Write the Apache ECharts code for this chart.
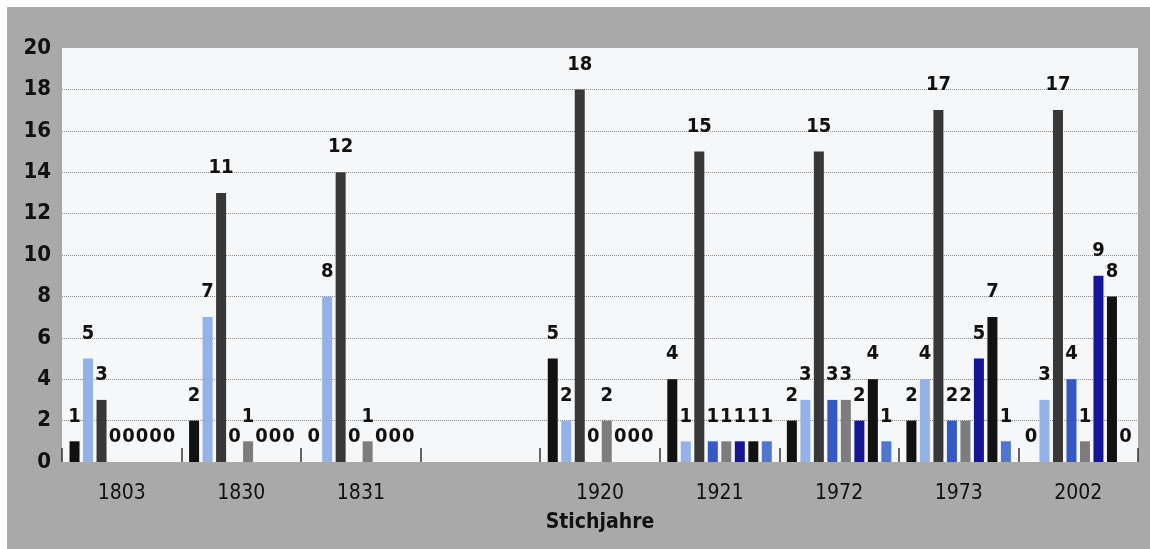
<!DOCTYPE html>
<html>
<head>
<meta charset="utf-8">
<script src="https://cdn.jsdelivr.net/npm/echarts@6/dist/echarts.min.js"></script>
<style>
  html, body { margin: 0; padding: 0; background: #ffffff; }
  #main { position: absolute; left: 7px; top: 7px; width: 1143px; height: 542px; }
</style>
</head>
<body>
<div id="main"></div>
<script>
  // Stichjahre (empty slot between 1831 and 1920 is a gap in the original)
  var years = ['1803', '1830', '1831', '', '1920', '1921', '1972', '1973', '2002'];

  var s1 = [1, 2, 0, '-', 5, 4, 2, 2, 0];        // black
  var s2 = [5, 7, 8, '-', 2, 1, 3, 4, 3];        // light blue
  var s3 = [3, 13, 14, '-', 18, 15, 15, 17, 17]; // charcoal
  var s3Labels = ['3', '11', '12', '', '18', '15', '15', '17', '17'];
  var s4 = [0, 0, 0, '-', 0, 1, 3, 2, 4];        // medium blue
  var s5 = [0, 1, 1, '-', 2, 1, 3, 2, 1];        // grey
  var s6 = [0, 0, 0, '-', 0, 1, 2, 5, 9];        // navy
  var s7 = [0, 0, 0, '-', 0, 1, 4, 7, 8];        // black
  var s8 = [0, 0, 0, '-', 0, 1, 1, 1, 0];        // blue

  var yTicks = [0, 2, 4, 6, 8, 10, 12, 14, 16, 18, 20];

  var FONT = "'Liberation Sans Narrow', 'DejaVu Sans Condensed', 'Roboto', sans-serif";

  var myChart = echarts.init(document.getElementById('main'));

  function barSeries(data, color, labels) {
    return {
      type: 'bar',
      data: data,
      barWidth: 10,
      barGap: '35%',
      itemStyle: { color: color },
      label: {
        show: true,
        position: 'top',
        distance: 15,
        color: '#111',
        fontFamily: FONT,
        fontWeight: 'bold',
        fontSize: 20,
        formatter: function (p) {
          if (labels) return labels[p.dataIndex];
          return p.value;
        }
      }
    };
  }

  var option = {
    backgroundColor: '#a9a9a9',
    animation: false,
    grid: {
      left: 55, right: 12, top: 41, bottom: 87,
      show: true,
      backgroundColor: '#f6f7f9',
      borderWidth: 0
    },
    xAxis: {
      type: 'category',
      data: years,
      name: 'Stichjahre',
      nameLocation: 'middle',
      nameGap: 50,
      nameTextStyle: { fontFamily: FONT, fontWeight: 'bold', fontSize: 21, color: '#111' },
      axisLine: { show: false },
      axisTick: { show: true, inside: true, length: 14, lineStyle: { color: '#333', width: 1.5 } },
      axisLabel: { fontFamily: FONT, fontSize: 21, color: '#111', margin: 21 },
      splitLine: { show: false }
    },
    yAxis: {
      type: 'value',
      min: yTicks[0],
      max: yTicks[yTicks.length - 1],
      interval: 2,
      axisLine: { show: false },
      axisTick: { show: false },
      axisLabel: { fontFamily: FONT, fontWeight: 'bold', fontSize: 22, color: '#111', margin: 11 },
      splitLine: {
        show: true,
        showMinLine: false,
        showMaxLine: false,
        lineStyle: { color: '#8c8c8c', type: 'dotted', width: 1 }
      }
    },
    series: [
      barSeries(s1, '#111111'),
      barSeries(s2, '#94b2ea'),
      barSeries(s3, '#383838', s3Labels),
      barSeries(s4, '#3458c6'),
      barSeries(s5, '#7d7d7d'),
      barSeries(s6, '#15169a'),
      barSeries(s7, '#121212'),
      barSeries(s8, '#4f77d2')
    ]
  };

  myChart.setOption(option);
</script>
</body>
</html>
